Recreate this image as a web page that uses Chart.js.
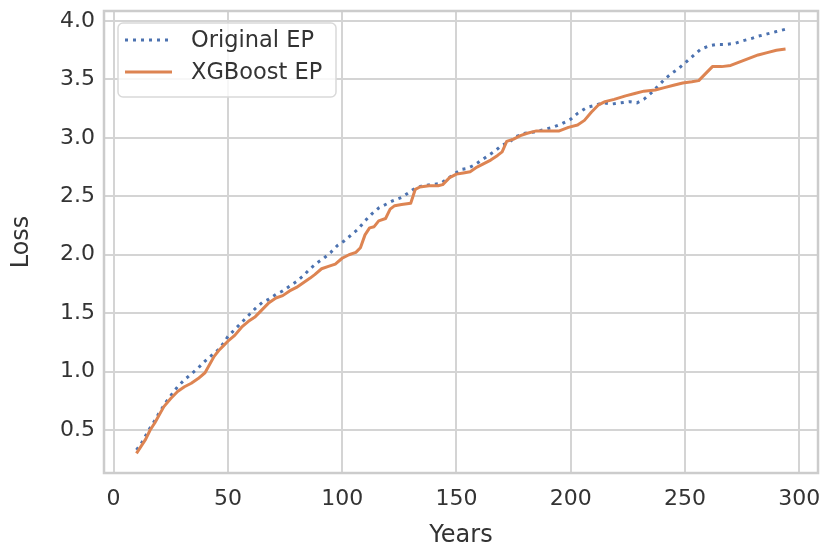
<!DOCTYPE html>
<html>
<head>
<meta charset="utf-8">
<script src="https://cdn.jsdelivr.net/npm/chart.js@4.4.1/dist/chart.umd.min.js"></script>
<style>
  html, body { margin: 0; padding: 0; background: #ffffff; }
  #wrap { width: 821px; height: 548px; }
</style>
</head>
<body>
<div id="wrap"><canvas id="chart" width="821" height="548"></canvas></div>
<script>
// Exceedance-probability loss curves: original vs XGBoost estimate
const originalYears = [10, 12, 14, 16, 18, 20, 23, 26, 28, 31, 34, 37, 40, 43, 46, 48, 50, 53, 56, 59,
  62, 65, 68, 71, 74, 77, 80, 83, 86, 89, 92, 95, 98, 101, 104, 107, 110, 113, 116, 119,
  122, 126, 129, 132, 135, 139, 143, 146, 149, 152, 155, 158, 161, 164, 167, 170, 173, 176, 180, 184,
  188, 192, 196, 200, 203, 207, 211, 214, 218, 222, 226, 229, 232, 235, 238, 241, 244, 247, 250, 254,
  257, 261, 264, 268, 272, 275, 279, 282, 286, 290, 294];
const originalLoss = [0.33, 0.38, 0.45, 0.52, 0.58, 0.65, 0.74, 0.82, 0.87, 0.93, 0.98, 1.03, 1.09, 1.14, 1.19, 1.24, 1.30, 1.36, 1.42, 1.48,
  1.54, 1.59, 1.62, 1.66, 1.69, 1.73, 1.77, 1.82, 1.88, 1.93, 1.97, 2.02, 2.08, 2.12, 2.17, 2.22, 2.29, 2.35, 2.40, 2.43,
  2.46, 2.49, 2.53, 2.57, 2.59, 2.60, 2.61, 2.65, 2.69, 2.73, 2.74, 2.77, 2.81, 2.85, 2.89, 2.94, 2.96, 3.01, 3.04, 3.05,
  3.07, 3.09, 3.12, 3.16, 3.21, 3.26, 3.28, 3.30, 3.29, 3.30, 3.31, 3.30, 3.33, 3.38, 3.44, 3.50, 3.55, 3.59, 3.64, 3.71,
  3.76, 3.79, 3.80, 3.80, 3.81, 3.83, 3.85, 3.87, 3.89, 3.91, 3.93];

const xgbYears = [10, 12, 14, 16, 18, 20, 22, 25, 28, 31, 34, 37, 40, 42, 44, 46, 48, 50, 53, 56,
  59, 62, 65, 68, 71, 74, 77, 80, 83, 86, 88, 91, 94, 97, 100, 103, 106, 108, 110, 112,
  114, 116, 119, 121, 123, 126, 130, 132, 134, 138, 142, 144, 147, 150, 153, 156, 159, 162, 165, 168,
  170, 172, 175, 178, 181, 185, 190, 195, 199, 203, 206, 209, 212, 215, 219, 224, 228, 232, 237, 241,
  245, 249, 253, 256, 259, 262, 266, 270, 274, 278, 282, 286, 290, 294];
const xgbLoss = [0.30, 0.36, 0.42, 0.50, 0.56, 0.63, 0.70, 0.77, 0.83, 0.87, 0.90, 0.94, 0.99, 1.06, 1.13, 1.18, 1.22, 1.26, 1.31, 1.38,
  1.43, 1.47, 1.53, 1.59, 1.63, 1.65, 1.69, 1.72, 1.76, 1.80, 1.83, 1.88, 1.90, 1.92, 1.97, 2.00, 2.02, 2.06, 2.17, 2.23,
  2.24, 2.29, 2.31, 2.39, 2.42, 2.43, 2.44, 2.56, 2.58, 2.59, 2.59, 2.60, 2.66, 2.69, 2.70, 2.71, 2.75, 2.78, 2.81, 2.85,
  2.88, 2.97, 2.99, 3.02, 3.04, 3.06, 3.06, 3.06, 3.09, 3.11, 3.15, 3.22, 3.28, 3.31, 3.33, 3.36, 3.38, 3.40, 3.41, 3.43,
  3.45, 3.47, 3.48, 3.49, 3.55, 3.61, 3.61, 3.62, 3.65, 3.68, 3.71, 3.73, 3.75, 3.76];

const xTicks = [0, 50, 100, 150, 200, 250, 300];
const yTicks = [0.5, 1.0, 1.5, 2.0, 2.5, 3.0, 3.5, 4.0];

const BLUE = '#4c72b0';
const ORANGE = '#dd8452';
const GRID = '#d4d4d4';
const TEXT = '#333333';
const FONT = "'DejaVu Sans', sans-serif";

const toPoints = (xs, ys) => xs.map((x, i) => ({ x: x, y: ys[i] }));

// Grey frame round the plotting area, drawn above the grid
const framePlugin = {
  id: 'frame',
  beforeDatasetsDraw(chart) {
    const { ctx, chartArea: a } = chart;
    ctx.save();
    ctx.strokeStyle = '#cccccc';
    ctx.lineWidth = 2.5;
    ctx.strokeRect(a.left, a.top, a.right - a.left, a.bottom - a.top);
    ctx.restore();
  }
};

// Legend box in the upper-left corner of the plotting area
const insetLegend = {
  id: 'insetLegend',
  afterDraw(chart) {
    const { ctx, chartArea: a } = chart;
    const x0 = a.left + 14, y0 = a.top + 12, w = 218, h = 74;
    ctx.save();
    ctx.beginPath();
    ctx.roundRect(x0, y0, w, h, 5);
    ctx.fillStyle = 'rgba(255,255,255,0.8)';
    ctx.fill();
    ctx.strokeStyle = '#d9d9d9';
    ctx.lineWidth = 1.5;
    ctx.stroke();
    const rows = [
      { ds: chart.data.datasets[0], y: y0 + 17 },
      { ds: chart.data.datasets[1], y: y0 + 49 }
    ];
    ctx.font = '22.5px ' + FONT;
    ctx.textBaseline = 'middle';
    rows.forEach(r => {
      ctx.beginPath();
      ctx.strokeStyle = r.ds.borderColor;
      ctx.lineWidth = r.ds.borderWidth;
      ctx.lineCap = 'butt';
      ctx.setLineDash(r.ds.borderDash || []);
      ctx.moveTo(x0 + 7, r.y);
      ctx.lineTo(x0 + 54, r.y);
      ctx.stroke();
      ctx.setLineDash([]);
      ctx.fillStyle = TEXT;
      ctx.fillText(r.ds.label, x0 + 73, r.y + 1);
    });
    ctx.restore();
  }
};

new Chart(document.getElementById('chart'), {
  type: 'line',
  data: {
    datasets: [
      {
        label: 'Original EP',
        data: toPoints(originalYears, originalLoss),
        borderColor: BLUE,
        borderWidth: 3,
        borderDash: [3, 5],
        borderCapStyle: 'butt',
        pointRadius: 0,
        tension: 0,
        fill: false,
        order: 1
      },
      {
        label: 'XGBoost EP',
        data: toPoints(xgbYears, xgbLoss),
        borderColor: ORANGE,
        borderWidth: 3,
        borderJoinStyle: 'round',
        pointRadius: 0,
        tension: 0,
        fill: false,
        order: 0
      }
    ]
  },
  options: {
    responsive: false,
    animation: false,
    devicePixelRatio: 1,
    layout: { padding: { top: 11, right: 3, left: 0, bottom: 0 } },
    plugins: { legend: { display: false }, tooltip: { enabled: false } },
    scales: {
      x: {
        type: 'linear',
        min: -4.2,
        max: 308.2,
        afterBuildTicks: s => { s.ticks = xTicks.map(v => ({ value: v })); },
        afterFit: s => { s.height = 75; s.paddingLeft = 0; s.paddingRight = 0; },
        grid: { color: GRID, lineWidth: 2, drawTicks: false },
        border: { display: false },
        ticks: {
          color: TEXT, padding: 13, maxRotation: 0, autoSkip: false,
          font: { family: FONT, size: 22 },
          callback: v => String(v)
        },
        title: {
          display: true, text: 'Years', color: TEXT,
          font: { family: FONT, size: 24, lineHeight: 1 }, padding: { top: 0, bottom: 0 }
        }
      },
      y: {
        type: 'linear',
        min: 0.132,
        max: 4.086,
        afterBuildTicks: s => { s.ticks = yTicks.map(v => ({ value: v })); },
        afterFit: s => { s.width = 104; s.paddingTop = 0; s.paddingBottom = 0; },
        grid: { color: GRID, lineWidth: 2, drawTicks: false },
        border: { display: false },
        ticks: {
          color: TEXT, padding: 9,
          font: { family: FONT, size: 22 },
          callback: v => v.toFixed(1)
        },
        title: {
          display: true, text: 'Loss', color: TEXT,
          font: { family: FONT, size: 24 }, padding: { top: 7, bottom: 0 }
        }
      }
    }
  },
  plugins: [framePlugin, insetLegend]
});
</script>
</body>
</html>
